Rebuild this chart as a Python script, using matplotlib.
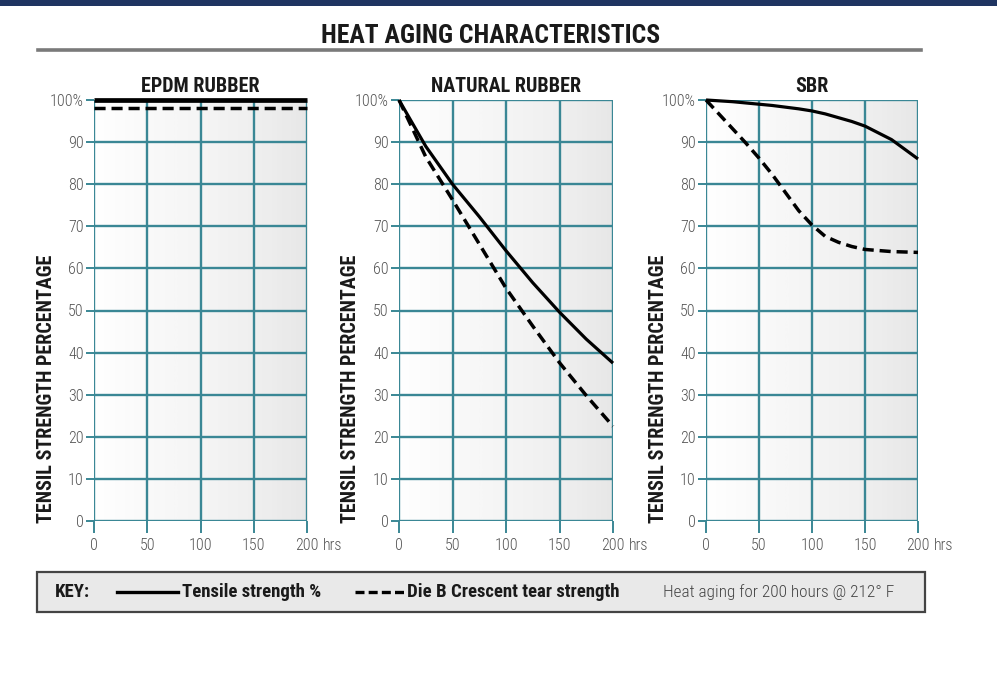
"""Heat aging characteristics: tensile / tear strength retention for three rubbers."""
import matplotlib
matplotlib.use("Agg")
import matplotlib.pyplot as plt
import numpy as np
from matplotlib.patches import Rectangle
from matplotlib.lines import Line2D

# --- data -------------------------------------------------------------------
hours = [0, 25, 50, 75, 100, 125, 150, 175, 200]
sbr_hours = [0, 12.5, 25, 37.5, 50, 62.5, 75, 87.5, 100, 112.5, 125, 137.5, 150, 175, 200]

epdm_tensile = [100, 100, 100, 100, 100, 100, 100, 100, 100]
epdm_tear = [98, 98, 98, 98, 98, 98, 98, 98, 98]

natural_tensile = [100, 89, 80, 72.3, 64.2, 56.6, 49.6, 43.2, 37.5]
natural_tear = [100, 86.5, 76.3, 65.8, 55.3, 46.3, 37.6, 29.8, 22.5]

sbr_tensile = [100, 99.8, 99.6, 99.3, 99, 98.7, 98.3, 97.9, 97.4, 96.7, 95.8, 94.9, 93.8, 90.6, 86]
sbr_tear = [100, 96.6, 93.2, 89.8, 86.2, 82.3, 78, 73.7, 70.3, 67.6, 66.2, 65.2, 64.5, 64, 63.8]

panel_titles = ["EPDM RUBBER", "NATURAL RUBBER", "SBR"]
x_series = [hours, hours, sbr_hours]
tensile_series = [epdm_tensile, natural_tensile, sbr_tensile]
tear_series = [epdm_tear, natural_tear, sbr_tear]

y_ticks = [0, 10, 20, 30, 40, 50, 60, 70, 80, 90, 100]
y_ticklabels = ["0", "10", "20", "30", "40", "50", "60", "70", "80", "90", "100%"]
x_ticks = [0, 50, 100, 150, 200]
x_ticklabels = ["0", "50", "100", "150", "200"]

# --- style ------------------------------------------------------------------
COND = ["Roboto Condensed", "DejaVu Sans"]
TEAL = "#3a8795"
TICK_GREY = "#555555"
INK = "#1a1a1a"
W, H = 997, 694

fig = plt.figure(figsize=(W / 100, H / 100), dpi=100)
fig.patch.set_facecolor("white")


def fx(px):
    return px / W


def fy(py):
    return 1 - py / H


# dark banner at the very top
fig.patches.append(Rectangle((0, fy(6)), 1, 6 / H, transform=fig.transFigure,
                             facecolor="#1f3461", edgecolor="none"))

fig.text(fx(491), fy(36), "HEAT AGING CHARACTERISTICS", family=COND,
         fontweight="bold", fontsize=18.5, color=INK, ha="center", va="center")
fig.add_artist(Line2D([fx(38), fx(921)], [fy(50), fy(50)], transform=fig.transFigure,
                      color="#7a7a7a", linewidth=2.6))

panel_left = [94, 399, 706]
panel_width = [213, 214, 212]
grad = np.linspace(0, 1, 256).reshape(1, -1)

for i in range(3):
    ax = fig.add_axes([fx(panel_left[i]), fy(521), panel_width[i] / W, 421 / H])
    ax.set_xlim(0, 200)
    ax.set_ylim(0, 100)

    # white -> light grey gradient behind the grid
    ax.imshow(grad, extent=[0, 200, 0, 100], aspect="auto", cmap="Greys",
              vmin=-0.02, vmax=1.0 / 0.17, zorder=0, interpolation="bilinear")

    for y in y_ticks:
        ax.axhline(y, color=TEAL, linewidth=1.7, zorder=1)
    for x in x_ticks:
        ax.axvline(x, color=TEAL, linewidth=1.7, zorder=1)

    lw_t = 3.4 if i == 0 else 2.3
    ax.plot(x_series[i], tensile_series[i], color="black", linewidth=lw_t,
            solid_capstyle="butt", solid_joinstyle="round", zorder=3, clip_on=False)
    ax.plot(x_series[i], tear_series[i], color="black", linewidth=2.5,
            dashes=(3.2, 1.7), zorder=3, clip_on=False)

    for s in ax.spines.values():
        s.set_visible(False)

    ax.set_yticks(y_ticks)
    ax.set_yticklabels(y_ticklabels, family=COND, fontweight="light", fontsize=11.5,
                       color=TICK_GREY)
    ax.set_xticks(x_ticks)
    ax.set_xticklabels(x_ticklabels, family=COND, fontweight="light", fontsize=11.5,
                       color=TICK_GREY)
    ax.tick_params(axis="y", length=6, width=1.4, color=TEAL, pad=1.5)
    ax.tick_params(axis="x", length=8.5, width=1.4, color=TEAL, pad=3.5)
    ax.annotate("hrs", xy=(200, 0), xycoords=("data", "axes fraction"),
                xytext=(11.5, -12), textcoords="offset points", family=COND,
                fontweight="light", fontsize=11.5, color=TICK_GREY, ha="left", va="top")
    ax.set_ylabel("TENSIL STRENGTH PERCENTAGE", family=COND, fontweight="bold",
                  fontsize=14.5, color=INK)
    ax.yaxis.set_label_coords(-0.18, 0.315)
    ax.set_title(panel_titles[i], family=COND, fontweight="bold", fontsize=14.5,
                 color=INK, pad=6)

# --- key box ----------------------------------------------------------------
fig.patches.append(Rectangle((fx(37), fy(612)), (925 - 37) / W, 40 / H,
                             transform=fig.transFigure, facecolor="#e9e9e9",
                             edgecolor="#444444", linewidth=1.6))
ky = fy(592)
fig.text(fx(55), ky, "KEY:", family=COND, fontweight="bold", fontsize=13.5,
         color=INK, va="center")
fig.add_artist(Line2D([fx(117), fx(178)], [ky, ky], transform=fig.transFigure,
                      color="black", linewidth=2.4))
fig.text(fx(182), ky, "Tensile strength %", family=COND, fontweight="bold",
         fontsize=13.5, color=INK, va="center")
fig.add_artist(Line2D([fx(355), fx(405)], [ky, ky], transform=fig.transFigure,
                      color="black", linewidth=2.4, dashes=(2.7, 1.25)))
fig.text(fx(407), ky, "Die B Crescent tear strength", family=COND, fontweight="bold",
         fontsize=13.5, color=INK, va="center")
fig.text(fx(663), ky, "Heat aging for 200 hours @ 212° F", family=COND,
         fontweight="light", fontsize=12.4, color="#444444", va="center")

fig.savefig("out.png", dpi=100)
